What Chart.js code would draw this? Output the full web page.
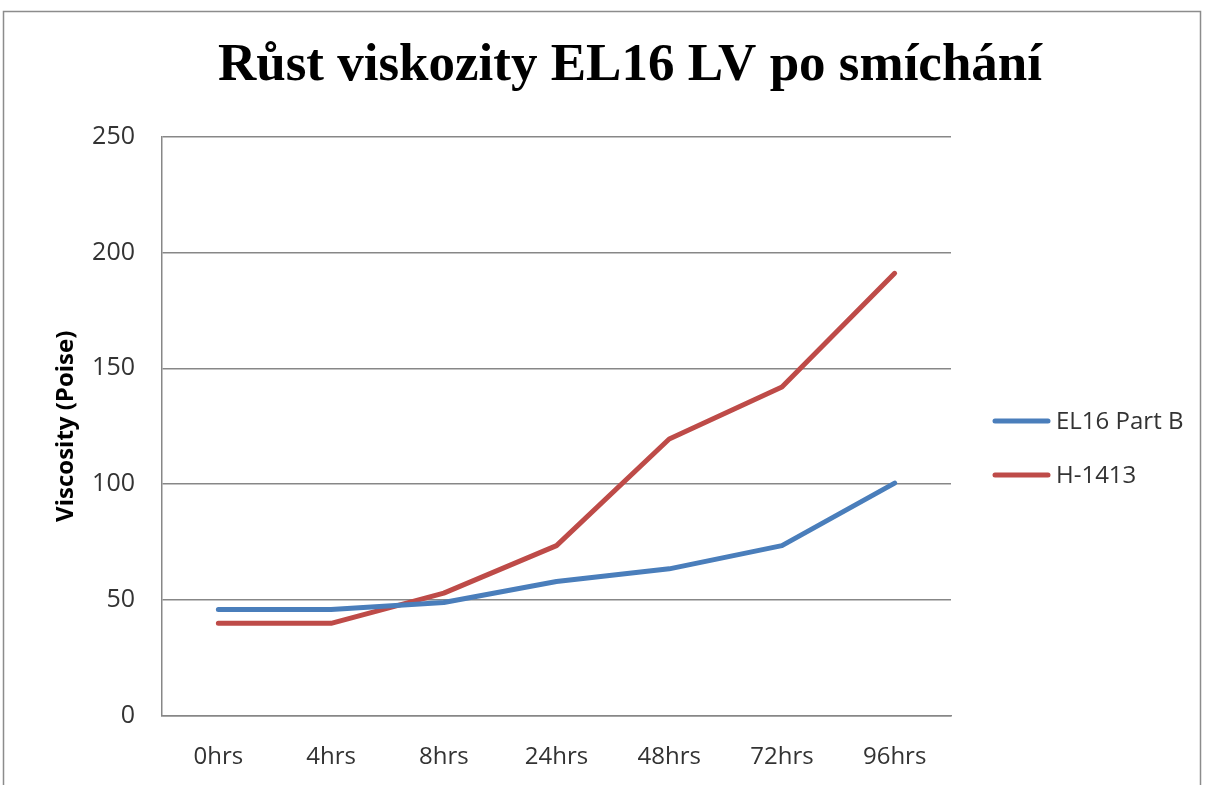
<!DOCTYPE html>
<html>
<head>
<meta charset="utf-8">
<script src="https://cdn.jsdelivr.net/npm/chart.js@4"></script>
<style>
  html, body { margin: 0; padding: 0; background: #fff; }
  #wrap { width: 1212px; height: 785px; position: relative; }
</style>
</head>
<body>
<div id="wrap"><canvas id="c" width="1212" height="785"></canvas></div>
<script>
const categories = ["0hrs", "4hrs", "8hrs", "24hrs", "48hrs", "72hrs", "96hrs"];
const el16PartB = [46, 46, 49, 58, 63.5, 73.5, 100.5];
const h1413 = [40, 40, 53, 73.5, 119.5, 142, 191];
const seriesNames = ["EL16 Part B", "H-1413"];
const yTicks = [0, 50, 100, 150, 200, 250];
const chartTitle = "Růst viskozity EL16 LV po smíchání";
const yAxisTitle = "Viscosity (Poise)";

const BLUE = "#4a7ebb";
const RED = "#be4b48";
const GRID = "#878787";
const TEXT = "#333333";

const frame = {
  id: "frame",
  beforeDraw(chart) {
    const ctx = chart.ctx;
    ctx.save();
    ctx.fillStyle = "#ffffff";
    ctx.fillRect(0, 0, chart.width, chart.height);
    ctx.strokeStyle = "#8c8c8c";
    ctx.lineWidth = 1.5;
    ctx.strokeRect(3.5, 11.5, 1197, 800);
    ctx.restore();
  }
};

const sideLegend = {
  id: "sideLegend",
  afterDraw(chart) {
    const ctx = chart.ctx;
    const x0 = 995, x1 = 1048, tx = 1056;
    const ys = [421, 475];
    ctx.save();
    chart.data.datasets.forEach((ds, i) => {
      ctx.strokeStyle = ds.borderColor;
      ctx.lineWidth = ds.borderWidth;
      ctx.lineCap = "round";
      ctx.beginPath();
      ctx.moveTo(x0, ys[i]);
      ctx.lineTo(x1, ys[i]);
      ctx.stroke();
      ctx.fillStyle = TEXT;
      ctx.font = "24px 'Open Sans'";
      ctx.textBaseline = "middle";
      ctx.textAlign = "left";
      ctx.fillText(ds.label, tx, ys[i] + 1);
    });
    ctx.restore();
  }
};

new Chart(document.getElementById("c"), {
  type: "line",
  data: {
    labels: categories,
    datasets: [
      { label: seriesNames[0], data: el16PartB, borderColor: BLUE, backgroundColor: BLUE,
        borderWidth: 5, pointRadius: 0, tension: 0, borderCapStyle: "round", borderJoinStyle: "round" },
      { label: seriesNames[1], data: h1413, borderColor: RED, backgroundColor: RED,
        borderWidth: 5, pointRadius: 0, tension: 0, borderCapStyle: "round", borderJoinStyle: "round" }
    ]
  },
  options: {
    responsive: false,
    animation: false,
    devicePixelRatio: 1,
    layout: { padding: { left: 48, right: 0, top: 0, bottom: 0 } },
    plugins: {
      legend: { display: false },
      tooltip: { enabled: false },
      title: {
        display: true,
        text: chartTitle,
        color: "#000000",
        font: { family: "'Liberation Serif', 'Times New Roman', serif", size: 53, weight: "bold" },
        padding: { top: 35, bottom: 38 }
      }
    },
    scales: {
      x: {
        type: "category",
        offset: true,
        grid: { display: false, drawTicks: false },
        border: { display: true, color: GRID, width: 1.5 },
        ticks: { color: TEXT, font: { family: "'Open Sans'", size: 24 }, padding: 27, maxRotation: 0, autoSkip: false },
        afterFit(s) { s.height = 69; }
      },
      y: {
        min: 0,
        max: 250,
        afterBuildTicks(s) { s.ticks = yTicks.map(v => ({ value: v })); },
        grid: { color: GRID, lineWidth: 1.5, drawTicks: false },
        border: { display: true, color: GRID, width: 1.5 },
        ticks: { color: TEXT, font: { family: "'Open Sans'", size: 25 }, padding: 27 },
        title: {
          display: true,
          text: yAxisTitle,
          color: "#000000",
          font: { family: "'Open Sans'", size: 24, weight: "bold" },
          padding: { top: 4, bottom: 0 }
        },
        afterFit(s) { s.width = 114; }
      },
      legendSpace: {
        type: "linear",
        position: "right",
        display: true,
        grid: { display: false, drawTicks: false },
        border: { display: false },
        ticks: { display: false },
        afterFit(s) { s.width = 261; }
      }
    }
  },
  plugins: [frame, sideLegend]
});
</script>
</body>
</html>
